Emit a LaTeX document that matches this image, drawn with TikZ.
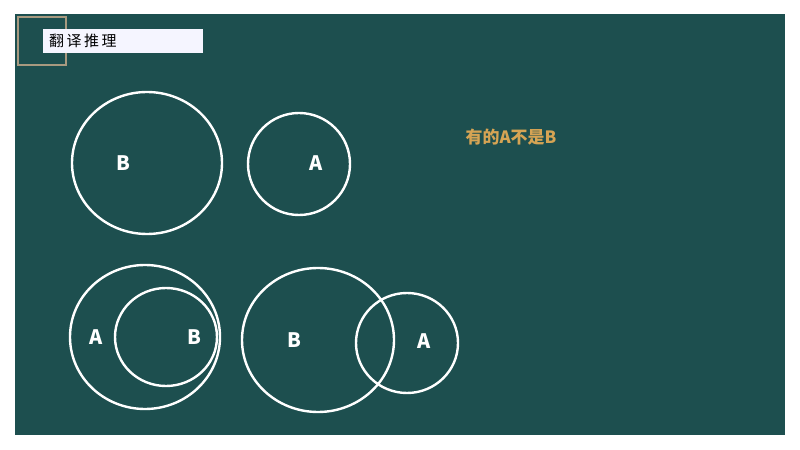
\documentclass[tikz,border=0pt]{standalone}
\usepackage{fontspec}
\setmainfont{Noto Sans CJK SC}
\newfontfamily\cjk{Noto Sans CJK SC}
\usetikzlibrary{positioning}
\definecolor{board}{HTML}{1D4F4F}
\definecolor{frametan}{HTML}{A89A80}
\definecolor{gold}{HTML}{D6A454}
\tikzset{
  ring/.style={draw=white, line width=2.4bp
  },
  letter/.style={text=white, font=\cjk\bfseries\fontsize{20}{20}\selectfont, inner sep=0mm
  },
  titlebox/.style={fill=white!96!blue, minimum height=24bp, minimum width=160bp, inner sep=0mm
  }
}

\begin{document}
\begin{tikzpicture}[x=1bp, y=-1bp]
   \useasboundingbox (0,0) rectangle (800,450);
   \fill[board] (15,14) rectangle (785,435);

   % title
   \draw[frametan, line width=2.6bp] (18,17) rectangle (66,65);
   \node[titlebox, anchor=north west] (title) at (43,29) {};
   \node[anchor=west, font=\cjk\fontsize{15}{15}\selectfont, inner sep=0mm] (titletext) at (49,41) {翻\,译\,推\,理};

   \node[text=gold, font=\cjk\bfseries\fontsize{17}{17}\selectfont] (claim) at (511,137) {有的A不是B};

   % B and A apart
   \draw[ring] (147,163) ellipse [x radius=75, y radius=71];
   \draw[ring] (299,164) ellipse [x radius=51, y radius=51];
   \node[letter] (b1) at (123,163) {B};
   \node[letter] (a1) at (316,163) {A};

   % B inside A
   \draw[ring] (145,337) ellipse [x radius=75, y radius=72];
   \draw[ring] (166,337) ellipse [x radius=51, y radius=49];
   \node[letter] (a2) at (96,337) {A};
   \node[letter] (b2) at (194,337) {B};

   % A and B overlap
   \draw[ring] (318,340) ellipse [x radius=76, y radius=72];
   \draw[ring] (407,343) ellipse [x radius=51, y radius=50];
   \node[letter] (b3) at (294,340) {B};
   \node[letter] (a3) at (424,341) {A};
\end{tikzpicture}
\end{document}
